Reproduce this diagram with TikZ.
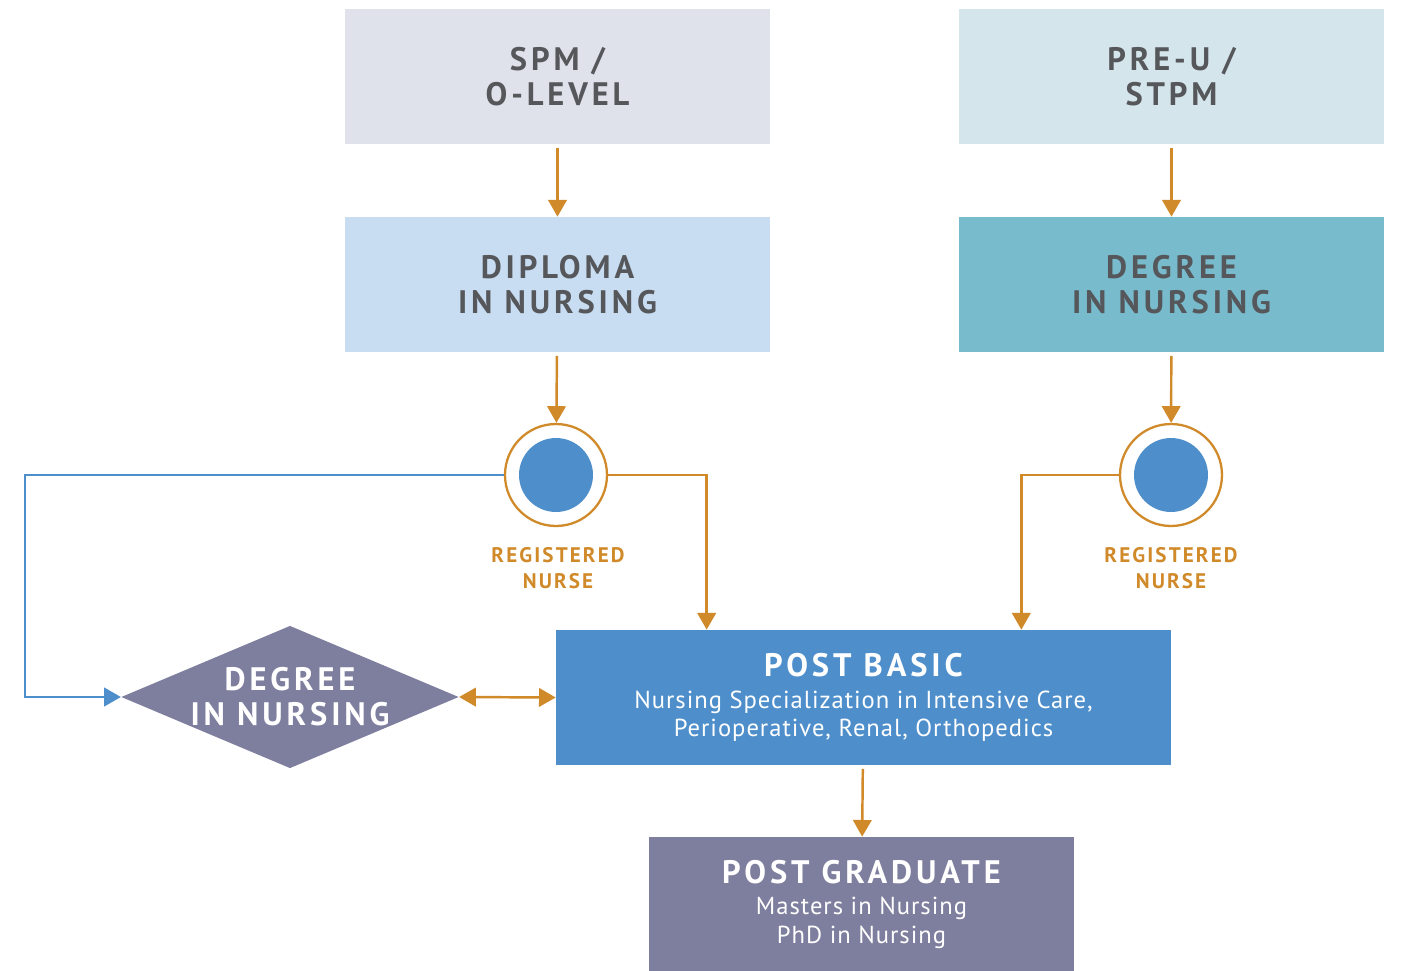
\documentclass[tikz,border=0pt]{standalone}
\usepackage{fontspec}
\setmainfont{PT Sans}
\usetikzlibrary{arrows.meta,shapes.geometric}
\newfontfamily\headfont[LetterSpace=12]{PT Sans}
\newfontfamily\rnfont[LetterSpace=10]{PT Sans}
\newfontfamily\plainfont[LetterSpace=4]{PT Sans}
\newcommand{\titlefont}{\headfont\bfseries\fontsize{18.5}{19.8}\selectfont}
\newcommand{\bodyfont}{\plainfont\fontsize{14}{16.4}\selectfont}
\definecolor{spmfill}{HTML}{DFE2EB}
\definecolor{preufill}{HTML}{D4E5EC}
\definecolor{diplfill}{HTML}{C8DDF1}
\definecolor{degfill}{HTML}{78BBCC}
\definecolor{nblue}{HTML}{4E8FCB}
\definecolor{ochre}{HTML}{D08A2A}
\definecolor{slate}{HTML}{7E7E9E}
\definecolor{textgray}{HTML}{55575A}
\begin{document}
\begin{tikzpicture}[x=0.02cm, y=-0.02cm,
 box/.style={rectangle, minimum width=8.5cm, minimum height=2.7cm, inner sep=0pt, align=center, font=\titlefont, text=textgray},
 bigbox/.style={rectangle, minimum height=2.7cm, inner sep=0pt, align=center, font=\bodyfont, text=white},
 link/.style={draw=ochre, line width=1.4pt, -{Triangle[width=10.5pt,length=9.5pt]}, shorten <=2pt},
 blink/.style={draw=nblue, line width=1.4pt, -{Triangle[width=10.5pt,length=9.5pt]}},
 ring/.style={circle, draw=ochre, line width=1.3pt, fill=white, minimum size=2.04cm, inner sep=0pt},
 rnlabel/.style={font=\rnfont\bfseries\fontsize{12}{14.5}\selectfont, text=ochre, align=center}]
\useasboundingbox (0,0) rectangle (1401,971);

% entry level
\node[box, fill=spmfill] (spm) at (557.5,76.5) {SPM /\\O-LEVEL};
\node[box, fill=preufill] (preu) at (1171.5,76.5) {PRE-U /\\STPM};

% programmes
\node[box, fill=diplfill] (dipl) at (557.5,284.5) {DIPLOMA\\IN NURSING};
\node[box, fill=degfill] (deg) at (1171.5,284.5) {DEGREE\\IN NURSING};

% registered nurse
\node[ring] (rn1) at (556,475) {};
\node[ring] (rn2) at (1171,475) {};
\fill[nblue] (rn1) circle (0.74cm);
\fill[nblue] (rn2) circle (0.74cm);
\node[rnlabel] (rnl1) at (558,568) {REGISTERED\\NURSE};
\node[rnlabel] (rnl2) at (1171,568) {REGISTERED\\NURSE};

\node[diamond, aspect=2.37, fill=slate, inner sep=0pt, minimum width=6.72cm, minimum height=2.84cm, font=\titlefont, text=white, align=center] (dia) at (290,697) {DEGREE\\IN NURSING};

\node[bigbox, fill=nblue, minimum width=12.3cm] (pb) at (863.5,697.5)
 {{\titlefont POST BASIC}\\[1.6pt]Nursing Specialization in Intensive Care,\\Perioperative, Renal, Orthopedics};
\node[bigbox, fill=slate, minimum width=8.5cm] (pg) at (861.5,904.5)
 {{\titlefont POST GRADUATE}\\[1.6pt]Masters in Nursing\\PhD in Nursing};

% connectors
\draw[link] (spm) -- (dipl);
\draw[link] (preu) -- (deg);
\draw[link] (dipl) -- (rn1);
\draw[link] (deg) -- (rn2);
\draw[link, shorten <=0pt] (rn1.east) -| ([xshift=3.02cm]pb.north west);
\draw[link, shorten <=0pt] (rn2.west) -| ([xshift=-3cm]pb.north east);
\coordinate (bend) at (25,475);
\draw[blink] (rn1.west) -- (bend) |- (dia.west);
\draw[link, {Triangle[width=10.5pt,length=9.5pt]}-{Triangle[width=10.5pt,length=9.5pt]}, shorten <=0pt] (dia.east) -- (pb.west);
\draw[link] (pb) -- (pg);
\end{tikzpicture}
\end{document}
